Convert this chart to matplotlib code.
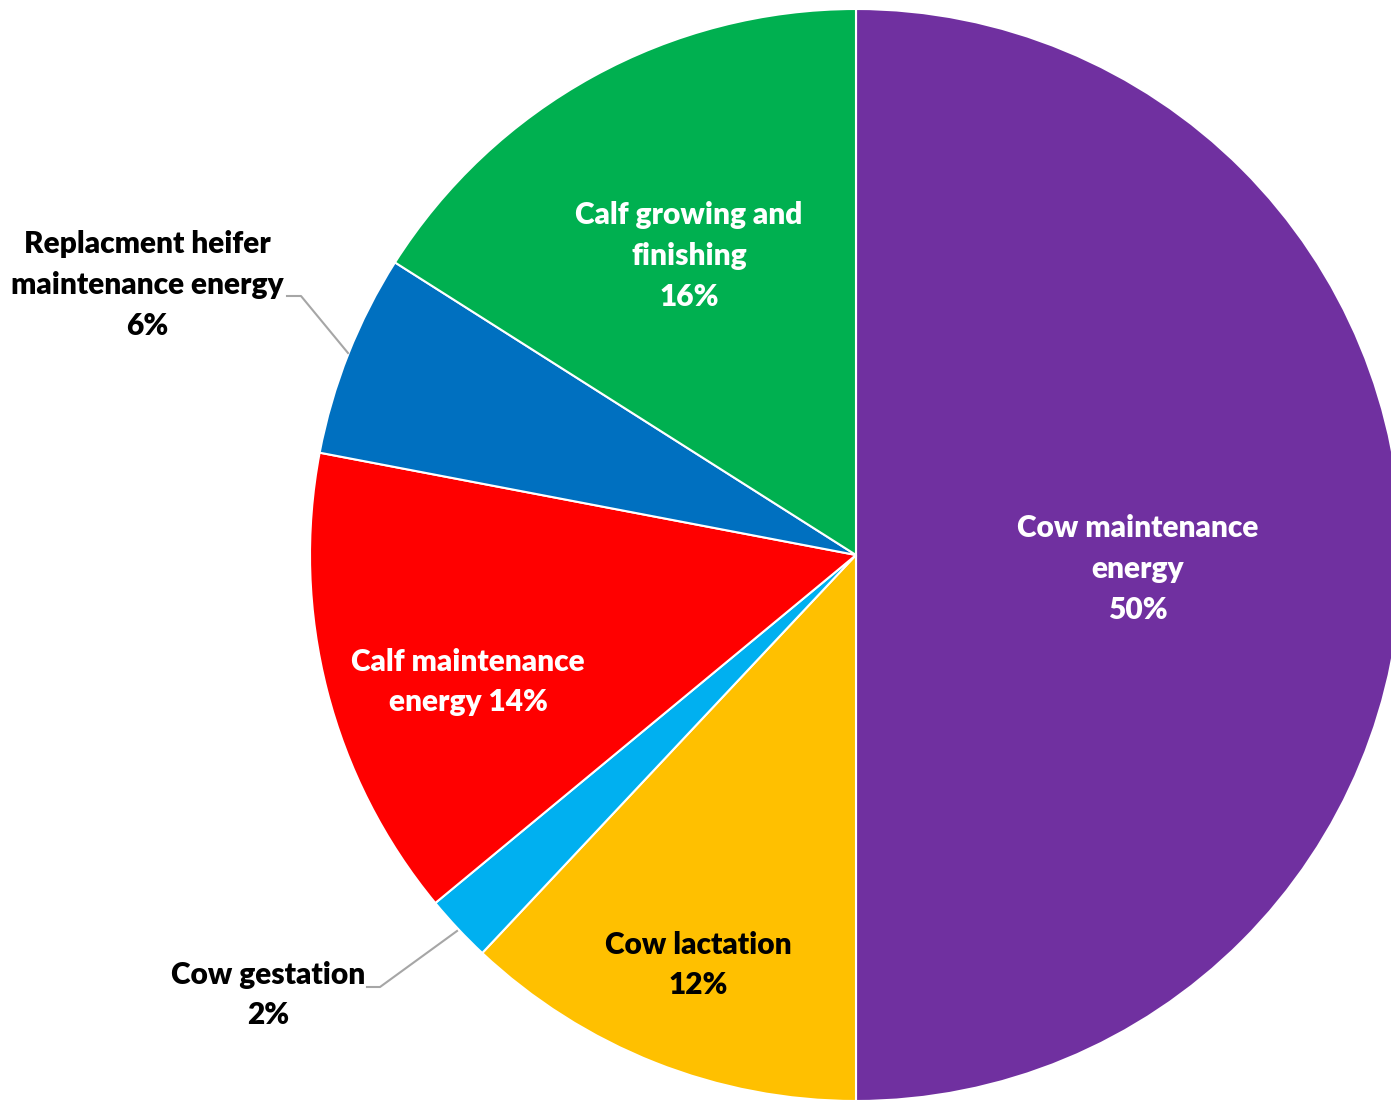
import matplotlib.pyplot as plt

# Energy use shares, clockwise from 12 o'clock
labels = ['Cow maintenance\nenergy\n50%', 'Cow lactation\n12%', 'Cow gestation\n2%',
          'Calf maintenance\nenergy 14%', 'Replacment heifer\nmaintenance energy\n6%',
          'Calf growing and\nfinishing\n16%']
values = [50, 12, 2, 14, 6, 16]
colors = ['#7030A0', '#FFC000', '#00B0F0', '#FF0000', '#0070C0', '#00B050']
text_colors = ['white', 'black', 'black', 'white', 'black', 'white']

# label placement (pixel coords, y measured from top)
label_pos = [(1138, 569), (698, 965), (268, 995), (468, 682), (147, 285), (689, 256)]
# leader lines for the two outside labels
leaders = {2: [(457, 931), (380, 987), (367, 987)],
           4: [(348, 353), (301, 296), (287, 296)]}

plt.rcParams['font.family'] = ['Lato', 'DejaVu Sans']

fig = plt.figure(figsize=(13.91, 11), dpi=100)
ax = fig.add_axes([0, 0, 1, 1])

ax.pie(values, colors=colors, startangle=90, counterclock=False,
       center=(856, -555), radius=546, frame=True,
       wedgeprops=dict(edgecolor='white', linewidth=1.5))
ax.set_xlim(0, 1391)
ax.set_ylim(-1100, 0)
ax.set_aspect('equal')
ax.axis('off')

for i, (lab, (x, y)) in enumerate(zip(labels, label_pos)):
    ax.text(x, -y, lab, ha='center', va='center', fontsize=21.5,
            fontweight='heavy', color=text_colors[i], linespacing=1.55)

for i, pts in leaders.items():
    ax.plot([p[0] for p in pts], [-p[1] for p in pts], color='#A6A6A6', lw=1.5)

fig.savefig('out.png', dpi=100)
